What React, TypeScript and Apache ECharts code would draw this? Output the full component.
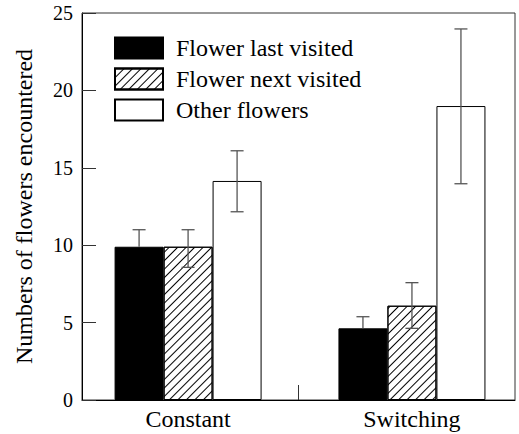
import React, { useEffect, useRef } from "react";
import * as echarts from "echarts";

const categories = ["Constant", "Switching"];
// group centre positions on the 0..2 x scale
const groupPositions = [0.49, 1.524];
const seriesNames = ["Flower last visited", "Flower next visited", "Other flowers"];
const lastVisited = [9.9, 4.63];
const nextVisited = [9.9, 6.09];
const otherFlowers = [14.15, 18.99];
const lastLow = [9.9, 4.63];
const lastHigh = [11.0, 5.38];
const nextLow = [8.57, 4.63];
const nextHigh = [11.0, 7.58];
const otherLow = [12.16, 13.97];
const otherHigh = [16.1, 23.97];
const yTicks = [0, 5, 10, 15, 20, 25];

const FONT = "Liberation Serif";
const BAR_W = 49;

export default function App() {
  const ref = useRef<HTMLDivElement>(null);
  useEffect(() => {
    if (!ref.current) return;
    const chart = echarts.init(ref.current, undefined, { renderer: "svg" });
    const values = [lastVisited, nextVisited, otherFlowers];
    const lows = [lastLow, nextLow, otherLow];
    const highs = [lastHigh, nextHigh, otherHigh];
    const colors = ["#000000", "#ffffff", "#ffffff"];

    const barSeries = values.map((vals, i) => ({
      name: seriesNames[i],
      type: "bar",
      barWidth: BAR_W,
      barGap: "0%",
      data: vals.map((v, j) => [groupPositions[j], v]),
      itemStyle: {
        color: colors[i],
        borderColor: "#000",
        borderWidth: 1,
        decal:
          i === 1
            ? {
                symbol: "rect",
                symbolSize: 1,
                dashArrayX: [1, 0],
                dashArrayY: [1, 5],
                rotation: -Math.PI / 4,
                color: "#000",
                backgroundColor: "#fff",
              }
            : "none",
      },
      emphasis: { disabled: true },
      z: 2,
    }));

    const errSeries = values.map((vals, i) => ({
      name: "err" + i,
      type: "custom",
      z: 3,
      data: vals.map((v, j) => [groupPositions[j], lows[i][j], highs[i][j]]),
      encode: { x: 0, y: [1, 2] },
      renderItem: (params: any, api: any) => {
        const x = api.value(0);
        const top = api.coord([x, api.value(2)]);
        const bot = api.coord([x, api.value(1)]);
        const cx = top[0] + (i - 1) * BAR_W;
        const hw = 6.5;
        const style = { stroke: "#555", lineWidth: 1.3 };
        const children: any[] = [
          { type: "line", shape: { x1: cx, y1: top[1], x2: cx, y2: bot[1] }, style },
          { type: "line", shape: { x1: cx - hw, y1: top[1], x2: cx + hw, y2: top[1] }, style },
        ];
        if (i !== 0) {
          children.push({ type: "line", shape: { x1: cx - hw, y1: bot[1], x2: cx + hw, y2: bot[1] }, style });
        }
        return { type: "group", children };
      },
    }));

    chart.setOption({
      animation: false,
      textStyle: { fontFamily: FONT },
      grid: {
        left: 82,
        right: 4,
        top: 13,
        bottom: 34,
        show: true,
        borderColor: "#333",
        borderWidth: 1,
        backgroundColor: "transparent",
      },
      legend: {
        data: seriesNames.map((n) => ({ name: n, icon: "rect" })),
        orient: "vertical",
        left: 114,
        top: 36,
        padding: 0,
        itemWidth: 48,
        itemHeight: 21,
        itemGap: 7,
        selectedMode: false,
        textStyle: { fontFamily: FONT, fontSize: 24, color: "#000", padding: [0, 0, 0, 8] },
      },
      xAxis: {
        type: "value",
        min: 0,
        max: 2,
        interval: 1,
        splitLine: { show: false },
        axisLine: { lineStyle: { color: "#000", width: 1 } },
        axisTick: { inside: true, length: 15, customValues: [1], lineStyle: { color: "#333" } },
        axisLabel: {
          customValues: groupPositions,
          formatter: (v: number) => {
            let best = 0;
            groupPositions.forEach((p, k) => {
              if (Math.abs(p - v) < Math.abs(groupPositions[best] - v)) best = k;
            });
            return categories[best];
          },
          fontFamily: FONT,
          fontSize: 24,
          color: "#000",
          margin: 7,
        },
      },
      yAxis: {
        type: "value",
        min: yTicks[0],
        max: yTicks[yTicks.length - 1],
        interval: 5,
        name: "Numbers of flowers encountered",
        nameLocation: "middle",
        nameGap: 46,
        nameTextStyle: { fontFamily: FONT, fontSize: 24, color: "#000" },
        splitLine: { show: false },
        axisLine: { show: true, lineStyle: { color: "#000", width: 1 } },
        axisTick: { inside: true, length: 14, lineStyle: { color: "#333" } },
        axisLabel: { fontFamily: FONT, fontSize: 20, color: "#000", margin: 9 },
      },
      series: [...barSeries, ...errSeries],
    });
    return () => chart.dispose();
  }, []);
  return <div ref={ref} style={{ width: 519, height: 434, position: "absolute", left: 0, top: 0 }} />;
}
